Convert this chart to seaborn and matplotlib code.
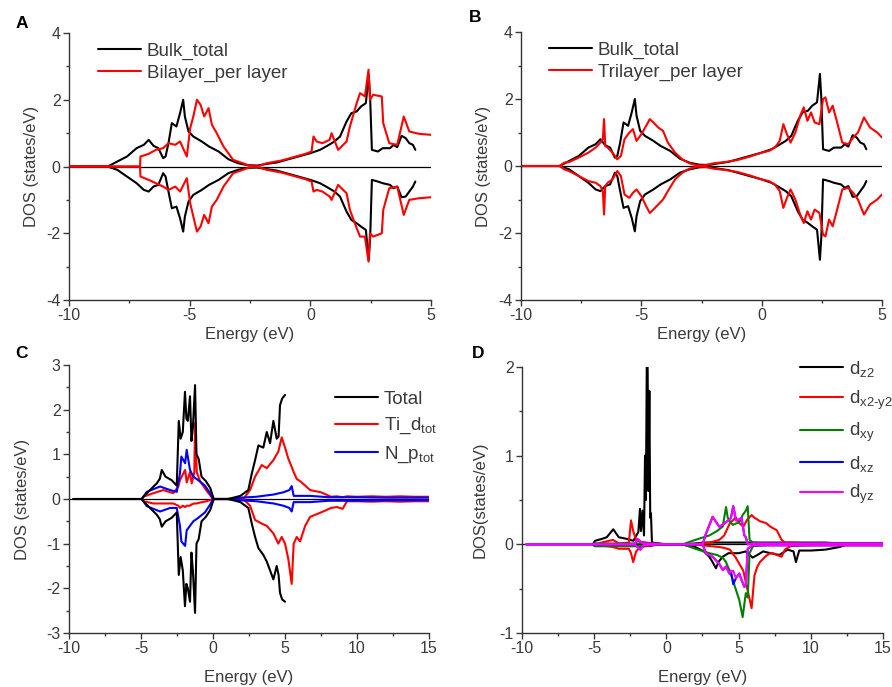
import matplotlib
matplotlib.use('Agg')
import matplotlib.pyplot as plt
import seaborn as sns
from matplotlib.ticker import MultipleLocator

# ---------------- data ----------------
# A / B : bulk total (same in both panels)
bulk_e = [-10.0, -8.4, -8.0, -7.6, -7.2, -6.9, -6.7, -6.5, -6.3, -6.1, -6.0, -5.88, -5.74, -5.55, -5.4,
          -5.27, -5.2, -5.05, -4.85, -4.5, -4.2, -3.8, -3.4, -3.0, -2.6, -2.2, -1.8, -1.4, -1.0, -0.5,
          0.0, 0.4, 0.7, 1.0, 1.23, 1.5, 1.7, 1.92, 2.1, 2.3, 2.42, 2.48, 2.55, 2.8, 3.0,
          3.3, 3.45, 3.6, 3.78, 3.95, 4.1, 4.25, 4.35]
bulk_up = [0, 0, 0.15, 0.3, 0.55, 0.65, 0.8, 0.62, 0.55, 0.25, 0.3, 0.7, 1.3, 1.2, 1.6,
           2.0, 1.5, 1.05, 0.9, 0.75, 0.6, 0.45, 0.22, 0.1, 0.04, 0.03, 0.08, 0.12, 0.2, 0.3,
           0.4, 0.5, 0.62, 0.75, 0.9, 1.35, 1.6, 1.65, 1.8, 1.9, 2.75, 2.0, 0.5, 0.45, 0.55,
           0.55, 0.65, 0.58, 0.92, 0.85, 0.7, 0.65, 0.5]
bulk_dn = [0, 0, -0.1, -0.3, -0.5, -0.7, -0.75, -0.6, -0.55, -0.2, -0.3, -0.75, -1.25, -1.2, -1.55,
           -1.95, -1.5, -1.05, -0.85, -0.7, -0.55, -0.4, -0.2, -0.1, -0.04, -0.03, -0.08, -0.12, -0.2, -0.3,
           -0.4, -0.5, -0.62, -0.75, -0.9, -1.35, -1.6, -1.7, -1.8, -1.9, -2.8, -2.1, -0.4, -0.45, -0.5,
           -0.55, -0.65, -0.6, -0.92, -0.9, -0.75, -0.6, -0.45]

# A : bilayer per layer
bi_e = [-10.0, -7.06, -7.04, -6.7, -6.4, -6.1, -5.88, -5.6, -5.4, -5.12, -4.98, -4.85, -4.7, -4.55, -4.4,
        -4.22, -4.08, -3.88, -3.6, -3.2, -2.8, -2.5, -2.2, -1.8, -1.2, -0.6, -0.2, 0.05, 0.13, 0.26,
        0.5, 0.8, 0.88, 1.15, 1.5, 1.64, 1.92, 2.06, 2.26, 2.41, 2.47, 2.6, 2.96, 3.02, 3.27,
        3.6, 3.87, 4.1, 4.5, 5.0]
bi_up = [0, 0, 0.3, 0.38, 0.5, 0.55, 0.7, 0.65, 0.75, 0.3, 1.15, 1.5, 2.0, 1.85, 1.5,
         1.75, 1.25, 1.0, 0.6, 0.2, 0.1, 0.02, 0.0, 0.1, 0.18, 0.3, 0.38, 0.45, 0.9, 0.75,
         0.7, 0.8, 1.0, 0.5, 0.75, 1.2, 1.9, 2.2, 2.1, 2.9, 2.0, 2.15, 2.1, 1.3, 0.7,
         0.65, 1.5, 1.05, 0.98, 0.95]
bi_dn = [0, 0, -0.3, -0.4, -0.5, -0.6, -0.7, -0.6, -0.75, -0.35, -1.1, -1.5, -1.95, -1.8, -1.45,
         -1.7, -1.2, -1.0, -0.6, -0.2, -0.1, -0.02, 0.0, -0.1, -0.18, -0.3, -0.38, -0.45, -0.75, -0.7,
         -0.75, -0.9, -1.0, -0.55, -0.8, -1.3, -1.85, -2.1, -2.1, -2.85, -2.0, -2.1, -2.0, -1.3, -0.65,
         -0.6, -1.45, -1.0, -0.95, -0.92]

# B : trilayer per layer
tri_e = [-10.0, -8.4, -8.2, -8.0, -7.6, -7.2, -6.9, -6.7, -6.6, -6.55, -6.5, -6.4, -6.2, -6.0, -5.85,
         -5.7, -5.5, -5.35, -5.2, -5.0, -4.8, -4.65, -4.5, -4.3, -4.1, -3.9, -3.6, -3.3, -3.0, -2.7,
         -2.4, -2.0, -1.5, -1.0, -0.5, 0.0, 0.3, 0.55, 0.75, 0.9, 1.05, 1.2, 1.4, 1.6, 1.75,
         1.9, 2.05, 2.2, 2.4, 2.55, 2.65, 2.8, 2.95, 3.1, 3.35, 3.6, 3.8, 4.0, 4.25, 4.5,
         4.8, 5.0]
tri_up = [0, 0, 0.1, 0.12, 0.25, 0.4, 0.55, 0.7, 0.8, 1.4, 0.6, 0.55, 0.4, 0.2, 0.3,
          0.8, 1.0, 1.1, 0.75, 0.95, 1.2, 1.4, 1.3, 1.15, 1.05, 0.7, 0.4, 0.2, 0.08, 0.02,
          0.02, 0.08, 0.12, 0.18, 0.28, 0.4, 0.45, 0.55, 0.75, 1.25, 0.95, 0.7, 1.0, 1.5, 1.75,
          1.35, 1.6, 1.3, 1.25, 2.0, 2.05, 1.6, 1.8, 1.4, 0.7, 0.65, 0.85, 1.0, 1.45, 1.15,
          1.0, 0.85]
tri_dn = [0, 0, -0.1, -0.15, -0.3, -0.45, -0.5, -0.6, -0.75, -1.45, -0.6, -0.5, -0.4, -0.15, -0.3,
          -0.85, -0.95, -0.8, -0.7, -0.9, -1.2, -1.4, -1.3, -1.15, -1.0, -0.75, -0.4, -0.2, -0.08, -0.02,
          -0.02, -0.08, -0.12, -0.18, -0.28, -0.4, -0.45, -0.55, -0.75, -1.25, -0.95, -0.7, -1.0, -1.45, -1.7,
          -1.35, -1.6, -1.3, -1.4, -2.05, -2.1, -1.6, -1.8, -1.4, -0.7, -0.65, -0.8, -1.0, -1.45, -1.15,
          -1.0, -0.85]

# C : total / Ti_d / N_p
tot_e = [-9.7, -4.95, -4.84, -4.38, -3.91, -3.7, -3.56, -3.3, -2.87, -2.52, -2.38, -2.25, -2.1, -1.95, -1.85,
         -1.75, -1.6, -1.5, -1.4, -1.25, -1.15, -1.0, -0.8, -0.5, -0.2, 0.05, 1.0, 1.3, 1.9, 2.45,
         2.69, 2.92, 3.15, 3.49, 3.73, 3.96, 4.19, 4.42, 4.55, 4.65, 4.8, 5.0]
tot_up = [0, 0, 0.05, 0.2, 0.35, 0.45, 0.65, 0.5, 0.42, 0.3, 1.75, 1.35, 1.5, 2.4, 1.8,
          1.75, 2.3, 1.3, 1.6, 2.55, 1.0, 0.9, 0.5, 0.4, 0.25, 0, 0, 0.02, 0.07, 0.2,
          0.57, 0.87, 1.2, 1.15, 1.5, 1.25, 1.75, 1.35, 1.4, 2.1, 2.25, 2.33]
tot_dn = [0, 0, -0.05, -0.2, -0.35, -0.45, -0.62, -0.5, -0.42, -0.3, -1.7, -1.3, -1.6, -2.4, -1.9,
          -2.0, -2.3, -1.2, -1.6, -2.55, -1.0, -0.9, -0.5, -0.4, -0.25, 0, 0, -0.02, -0.07, -0.2,
          -0.55, -0.85, -1.1, -1.25, -1.4, -1.6, -1.8, -1.5, -1.7, -2.1, -2.25, -2.3]

tid_e = [-4.95, -4.84, -4.15, -3.45, -2.76, -2.41, -2.3, -2.1, -1.94, -1.83, -1.6, -1.48, -1.3, -1.25, -1.13,
         -0.9, -0.44, 0.0, 1.2, 2.1, 2.57, 2.92, 3.38, 3.73, 4.19, 4.53, 4.77, 5.0, 5.23, 5.46,
         5.6, 5.81, 6.04, 6.4, 6.74, 7.5, 8.2, 8.6, 9.0, 9.3, 10.0, 11.0, 12.0, 13.0, 14.0, 15.0]
tid_up = [0, 0.05, 0.13, 0.2, 0.13, 0.28, 0.42, 0.55, 0.65, 0.37, 0.6, 0.35, 0.6, 1.7, 0.6,
          0.4, 0.18, 0, 0, 0, 0.2, 0.5, 0.76, 0.69, 0.87, 1.06, 1.38, 1.15, 0.9, 0.72,
          0.6, 0.45, 0.4, 0.3, 0.2, 0.15, 0.05, 0.06, 0.04, 0.06, 0.05, 0.06, 0.05, 0.06, 0.05, 0.05]
tid_dn = [0, -0.05, -0.1, -0.1, -0.1, -0.15, -0.2, -0.15, -0.18, -0.15, -0.15, -0.12, -0.1, -0.1, -0.1,
          -0.08, -0.05, 0, 0, 0, -0.15, -0.47, -0.55, -0.6, -0.77, -1.0, -0.85, -1.0, -1.35, -1.9,
          -1.0, -0.85, -0.95, -0.6, -0.4, -0.3, -0.2, -0.18, -0.22, -0.05, -0.05, -0.06, -0.05, -0.06, -0.05, -0.05]

np_e = [-4.95, -4.6, -3.68, -2.98, -2.52, -2.3, -2.2, -1.94, -1.83, -1.6, -1.37, -1.02, -0.56, -0.21, 0.0,
        1.2, 1.9, 3.0, 4.2, 4.88, 5.3, 5.46, 5.6, 6.74, 8.0, 10.0, 12.0, 15.0]
np_up = [0, 0.16, 0.28, 0.2, 0.16, 0.57, 0.95, 0.8, 1.1, 0.65, 0.5, 0.42, 0.3, 0.13, 0,
         0, 0.03, 0.05, 0.1, 0.15, 0.2, 0.29, 0.07, 0.07, 0.04, 0.04, 0.03, 0.03]
np_dn = [0, -0.16, -0.28, -0.2, -0.2, -0.6, -0.95, -1.05, -0.7, -0.6, -0.5, -0.42, -0.3, -0.13, 0,
         0, -0.03, -0.05, -0.1, -0.15, -0.2, -0.28, -0.07, -0.07, -0.04, -0.04, -0.03, -0.03]

# D : Ti d orbitals
dz2_e = [-5.1, -4.94, -4.5, -4.13, -3.68, -3.3, -2.7, -2.29, -1.94, -1.83, -1.76, -1.65, -1.55, -1.48, -1.42,
         -1.36, -1.3, -1.24, -1.18, -1.12, -1.07, -1.0, 0.0, 1.0, 2.0, 2.6, 2.97, 3.2, 3.43, 3.6,
         3.9, 4.3, 5.0, 5.5, 5.97, 6.3, 6.7, 7.2, 7.82, 8.4, 8.8, 8.97, 9.2, 10.0, 11.0,
         12.0, 12.5, 15.0]
dz2_up = [0, 0.04, 0.06, 0.08, 0.17, 0.08, 0.06, 0.04, 0.14, 0.4, 0.15, 0.38, 0.1, 1.0, 0.5,
          2.0, 2.0, 0.6, 1.73, 0.3, 0.35, 0.02, 0, 0, 0.01, 0.02, 0.02, 0.02, 0.02, 0.02,
          0.02, 0.02, 0.02, 0.02, 0.02, 0.02, 0.02, 0.02, 0.02, 0.02, 0.02, 0.02, 0.02, 0.02, 0.02,
          0.01, 0, 0]
dz2_dn = [0, -0.02, -0.02, -0.02, -0.02, -0.02, -0.02, -0.02, -0.02, -0.02, -0.02, -0.02, -0.02, -0.02, -0.02,
          -0.02, -0.02, -0.02, -0.02, -0.02, -0.02, -0.01, 0, 0, -0.03, -0.08, -0.14, -0.2, -0.27, -0.2,
          -0.14, -0.1, -0.1, -0.08, -0.15, -0.12, -0.08, -0.1, -0.12, -0.06, -0.08, -0.2, -0.07, -0.07, -0.06,
          -0.03, 0, 0]

dx2_e = [-5.0, -3.7, -3.3, -2.6, -2.45, -2.3, -2.1, -1.8, -1.0, 0.0, 2.0, 3.0, 3.66, 4.0, 4.4,
         4.8, 5.05, 5.33, 5.6, 5.9, 6.1, 6.3, 6.48, 6.9, 7.2, 7.4, 7.64, 7.98, 8.2, 8.6,
         10.0, 15.0]
dx2_up = [0, 0.05, 0.01, 0.02, 0.27, 0.15, 0.05, 0.03, 0.01, 0, 0, 0.02, 0.05, 0.1, 0.24,
          0.3, 0.24, 0.2, 0.28, 0.33, 0.3, 0.28, 0.26, 0.24, 0.2, 0.18, 0.16, 0.05, 0.02, 0.02,
          0.01, 0.01]
dx2_dn = [0, -0.03, -0.05, -0.05, -0.1, -0.2, -0.08, -0.03, -0.01, 0, 0, -0.02, -0.03, -0.04, -0.06,
          -0.15, -0.22, -0.3, -0.5, -0.72, -0.35, -0.25, -0.2, -0.13, -0.1, -0.1, -0.12, -0.14, -0.06, -0.02,
          -0.01, -0.01]

dxy_e = [-5.0, -3.0, -2.0, -1.0, 0.0, 1.13, 2.0, 2.97, 3.5, 3.9, 4.13, 4.25, 4.4, 4.59, 5.05,
         5.28, 5.5, 5.63, 5.76, 6.0, 7.0, 15.0]
dxy_up = [0.01, 0.01, 0.01, 0.01, 0, 0, 0.05, 0.1, 0.15, 0.2, 0.42, 0.3, 0.26, 0.22, 0.25,
          0.33, 0.38, 0.43, 0.05, 0.02, 0.01, 0.01]
dxy_dn = [-0.02, -0.02, -0.02, -0.01, 0, 0, -0.05, -0.1, -0.12, -0.15, -0.2, -0.25, -0.3, -0.4, -0.63,
          -0.82, -0.55, -0.6, -0.1, -0.02, -0.01, -0.01]

dyz_e = [-9.7, -2.2, -2.0, -1.8, -1.6, 0.0, 2.51, 2.74, 3.2, 3.66, 3.9, 4.13, 4.36, 4.47, 4.63,
         4.82, 5.05, 5.2, 5.4, 5.5, 5.63, 6.0, 15.0]
dyz_up = [0, 0, 0.06, 0.03, 0.01, 0, 0, 0.12, 0.31, 0.2, 0.22, 0.25, 0.28, 0.3, 0.43,
          0.27, 0.28, 0.3, 0.1, 0.08, 0.0, 0.01, 0.01]
dyz_dn = [0, 0, -0.03, -0.06, -0.01, 0, 0, -0.1, -0.14, -0.22, -0.29, -0.25, -0.33, -0.3, -0.3,
          -0.38, -0.33, -0.4, -0.48, -0.45, -0.05, -0.01, -0.01]
dxz_up = [0, 0, 0.06, 0.03, 0.01, 0, 0, 0.12, 0.31, 0.2, 0.22, 0.25, 0.28, 0.3, 0.43,
          0.27, 0.28, 0.3, 0.1, 0.08, 0.0, 0.01, 0.01]
dxz_dn = [0, 0, -0.03, -0.06, -0.01, 0, 0, -0.1, -0.14, -0.22, -0.29, -0.25, -0.33, -0.3, -0.45,
          -0.38, -0.33, -0.4, -0.48, -0.45, -0.05, -0.01, -0.01]

# ---------------- style ----------------
sns.set_style('ticks')
plt.rcParams['font.family'] = ['Liberation Sans', 'DejaVu Sans']
plt.rcParams['mathtext.fontset'] = 'custom'
plt.rcParams['mathtext.rm'] = 'Liberation Sans'
plt.rcParams['mathtext.it'] = 'Liberation Sans:italic'
plt.rcParams['mathtext.default'] = 'regular'
plt.rcParams['axes.unicode_minus'] = False
GREY = '#3a3a3a'
plt.rcParams['text.color'] = GREY
plt.rcParams['axes.labelcolor'] = GREY
plt.rcParams['xtick.color'] = GREY
plt.rcParams['ytick.color'] = GREY
plt.rcParams['axes.edgecolor'] = '#333333'


def curve(ax, e, d, color, label=None, z=2):
    sns.lineplot(x=e, y=d, color=color, lw=1.5, ax=ax, estimator=None, sort=False,
                 label=label, legend=False, zorder=z)


def style(ax, xlim, ylim, ymaj, ylabel, ylab_x, xlab_y):
    ax.set_xlim(*xlim)
    ax.set_ylim(*ylim)
    ax.xaxis.set_major_locator(MultipleLocator(5))
    ax.xaxis.set_minor_locator(MultipleLocator(2.5))
    ax.yaxis.set_major_locator(MultipleLocator(ymaj))
    ax.yaxis.set_minor_locator(MultipleLocator(ymaj / 2))
    ax.tick_params(which='major', direction='out', length=4, width=1, labelsize=11.5, pad=2)
    ax.tick_params(which='minor', direction='out', length=2.5, width=1)
    sns.despine(ax=ax)
    for s in ['left', 'bottom']:
        ax.spines[s].set_linewidth(1)
    ax.axhline(0, color='black', lw=0.9, zorder=1)
    ax.set_xlabel('Energy (eV)', fontsize=12)
    ax.set_ylabel(ylabel, fontsize=12)
    ax.yaxis.set_label_coords(ylab_x, 0.5)
    ax.xaxis.set_label_coords(0.5, xlab_y)


def legend(ax, x, y, spacing):
    ax.legend(loc='upper left', bbox_to_anchor=(x, y), frameon=False, fontsize=13.5,
              handlelength=2.3, handletextpad=0.3, labelspacing=spacing,
              borderpad=0, borderaxespad=0)


fig = plt.figure(figsize=(8.92, 6.87), dpi=100)
axA = fig.add_axes([0.0774, 0.5633, 0.4058, 0.3886])
axB = fig.add_axes([0.5841, 0.5633, 0.4047, 0.3901])
axC = fig.add_axes([0.0774, 0.0786, 0.4036, 0.3901])
axD = fig.add_axes([0.5852, 0.0786, 0.4047, 0.3872])

# A
style(axA, (-10, 5), (-4, 4), 2, 'DOS (states/eV)', -0.083, -0.10)
curve(axA, bulk_e, bulk_up, 'black', 'Bulk_total')
curve(axA, bulk_e, bulk_dn, 'black')
curve(axA, bi_e, bi_up, 'red', 'Bilayer_per layer')
curve(axA, bi_e, bi_dn, 'red')
legend(axA, 0.08, 0.965, 0.25)

# B
style(axB, (-10, 5), (-4, 4), 2, 'DOS (states/eV)', -0.083, -0.10)
curve(axB, bulk_e, bulk_up, 'black', 'Bulk_total')
curve(axB, bulk_e, bulk_dn, 'black')
curve(axB, tri_e, tri_up, 'red', 'Trilayer_per layer')
curve(axB, tri_e, tri_dn, 'red')
legend(axB, 0.078, 0.965, 0.25)

# C
style(axC, (-10, 15), (-3, 3), 1, 'DOS (states/eV)', -0.108, -0.138)
curve(axC, tot_e, tot_up, 'black', 'Total', z=3)
curve(axC, tot_e, tot_dn, 'black', z=3)
curve(axC, tid_e, tid_up, 'red', r'Ti_d$_{tot}$')
curve(axC, tid_e, tid_dn, 'red')
curve(axC, np_e, np_up, 'blue', r'N_p$_{tot}$')
curve(axC, np_e, np_dn, 'blue')
legend(axC, 0.739, 0.905, 0.45)

# D
style(axD, (-10, 15), (-1, 2), 1, 'DOS(states/eV)', -0.094, -0.138)
curve(axD, dz2_e, dz2_up, 'black', r'd$_{z2}$')
curve(axD, dz2_e, dz2_dn, 'black')
curve(axD, dx2_e, dx2_up, 'red', r'd$_{x2\text{-}y2}$')
curve(axD, dx2_e, dx2_dn, 'red')
curve(axD, dxy_e, dxy_up, 'green', r'd$_{xy}$')
curve(axD, dxy_e, dxy_dn, 'green')
curve(axD, dyz_e, dxz_up, 'blue', r'd$_{xz}$')
curve(axD, dyz_e, dxz_dn, 'blue')
curve(axD, dyz_e, dyz_up, 'magenta', r'd$_{yz}$')
curve(axD, dyz_e, dyz_dn, 'magenta')
legend(axD, 0.77, 1.03, 0.5)

# panel letters
for lab, x, y in [('A', 22, 23), ('B', 475, 18), ('C', 22, 354), ('D', 478, 354)]:
    fig.text(x / 892, 1 - y / 687, lab, fontsize=12.5, fontweight='bold', color='black',
             ha='center', va='center')

fig.savefig('out.png', dpi=100)
